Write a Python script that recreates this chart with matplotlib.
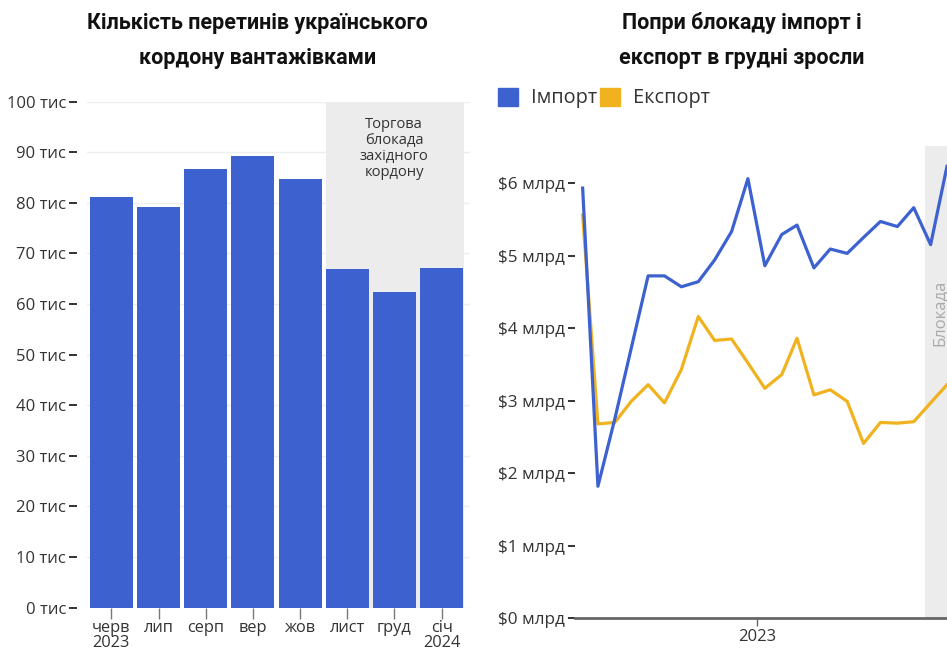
import matplotlib
matplotlib.use('Agg')
import matplotlib.pyplot as plt
import matplotlib.dates as mdates
from matplotlib.patches import Rectangle
import pandas as pd

plt.rcParams['font.family'] = ['Open Sans', 'DejaVu Sans']

# --- left chart: truck crossings, thousands
months_uk = ['черв\n2023', 'лип', 'серп', 'вер', 'жов', 'лист', 'груд', 'січ\n2024']
crossings = [81.2, 79.2, 86.7, 89.2, 84.7, 67.0, 62.4, 67.2]
y_ticks_left = [0, 10, 20, 30, 40, 50, 60, 70, 80, 90, 100]

# --- right chart: monthly import / export, $ bn
trade_dates = pd.date_range('2022-02-01', periods=23, freq='MS') + pd.Timedelta(days=14)
import_bn = [5.93, 1.82, 2.75, 3.72, 4.72, 4.72, 4.57, 4.64, 4.94, 5.33, 6.06, 4.86,
             5.29, 5.42, 4.83, 5.09, 5.03, 5.25, 5.47, 5.40, 5.66, 5.15, 6.23]
export_bn = [5.56, 2.68, 2.70, 2.99, 3.22, 2.97, 3.43, 4.16, 3.83, 3.85, 3.52, 3.17,
             3.36, 3.86, 3.08, 3.15, 2.99, 2.41, 2.70, 2.69, 2.71, 2.97, 3.22]
y_ticks_right = [0, 1, 2, 3, 4, 5, 6]

BLUE = '#3d62cf'
YELLOW = '#f0b31f'
TXT = '#333333'
TITLE_FONT = ['Roboto', 'DejaVu Sans']

fig = plt.figure(figsize=(9.47, 6.51), dpi=100)

# ===== left
ax1 = fig.add_axes([0.0919, 0.0668, 0.4044, 0.777])
x = range(len(crossings))
ax1.axvspan(4.545, 7.47, ymin=0, ymax=1, color='#ececec', zorder=0, lw=0)
ax1.bar(x, crossings, width=0.91, color=BLUE, zorder=2)
ax1.set_ylim(0, 100)
ax1.set_xlim(-0.515, 7.6)
ax1.set_yticks(y_ticks_left)
ax1.set_yticklabels(['{} тис'.format(v) for v in y_ticks_left])
ax1.set_xticks(list(x))
ax1.set_xticklabels(months_uk, linespacing=0.9)
for s in ax1.spines.values():
    s.set_visible(False)
ax1.spines['left'].set_position(('outward', 7))
ax1.grid(axis='y', color='#eeeeee', lw=1, zorder=1)
ax1.tick_params(axis='y', length=6, width=1.4, color=TXT, labelcolor=TXT, labelsize=12, pad=2)
ax1.tick_params(axis='x', length=8, width=1, color='#777777', labelcolor=TXT, labelsize=11.8, pad=1)
ax1.text(5.99, 97.0, 'Торгова\nблокада\nзахідного\nкордону', ha='center', va='top',
         fontsize=10.6, color=TXT, linespacing=1.08)

fig.text(0.272, 0.964, 'Кількість перетинів українського', ha='center', va='center',
         fontsize=15.5, fontweight='bold', family=TITLE_FONT, color='#111111')
fig.text(0.272, 0.911, 'кордону вантажівками', ha='center', va='center',
         fontsize=15.5, fontweight='bold', family=TITLE_FONT, color='#111111')

# ===== right
ax2 = fig.add_axes([0.6072, 0.0502, 0.3928, 0.7255])
ax2.axvspan(pd.Timestamp('2023-11-05'), pd.Timestamp('2024-01-31'), color='#ececec', lw=0, zorder=0)
ax2.plot(trade_dates, export_bn, color=YELLOW, lw=2.3, zorder=3)
ax2.plot(trade_dates, import_bn, color=BLUE, lw=2.3, zorder=4)
ax2.set_ylim(0, 6.51)
ax2.set_xlim(pd.Timestamp('2022-02-01'), pd.Timestamp('2023-12-15'))
ax2.set_yticks(y_ticks_right)
ax2.set_yticklabels(['${} млрд'.format(v) for v in y_ticks_right])
ax2.set_xticks([pd.Timestamp('2023-01-01')])
ax2.xaxis.set_major_formatter(mdates.DateFormatter('%Y'))
for s in ['top', 'right', 'left']:
    ax2.spines[s].set_visible(False)
ax2.spines['bottom'].set_color('#666666')
ax2.spines['bottom'].set_linewidth(2)
ax2.tick_params(axis='y', length=5, width=1.4, color=TXT, labelcolor=TXT, labelsize=12.3, pad=2)
ax2.tick_params(axis='x', length=6, width=1, color='#666666', labelcolor=TXT, labelsize=12, pad=2)
ax2.text(pd.Timestamp('2023-12-02'), 4.21, 'Блокада', rotation=90, ha='center', va='center',
         fontsize=12, color='#aaaaaa')

fig.text(0.783, 0.964, 'Попри блокаду імпорт і', ha='center', va='center',
         fontsize=15.5, fontweight='bold', family=TITLE_FONT, color='#111111')
fig.text(0.783, 0.911, 'експорт в грудні зросли', ha='center', va='center',
         fontsize=15.5, fontweight='bold', family=TITLE_FONT, color='#111111')

# legend
fig.patches.append(Rectangle((498 / 947, 1 - 106 / 651), 20 / 947, 18 / 651,
                             transform=fig.transFigure, color=BLUE, figure=fig))
fig.text(531 / 947, 1 - 98 / 651, 'Імпорт', ha='left', va='center', fontsize=14.3, color=TXT)
fig.patches.append(Rectangle((600 / 947, 1 - 106 / 651), 20 / 947, 18 / 651,
                             transform=fig.transFigure, color=YELLOW, figure=fig))
fig.text(633 / 947, 1 - 98 / 651, 'Експорт', ha='left', va='center', fontsize=14.3, color=TXT)

fig.savefig('out.png', dpi=100)
